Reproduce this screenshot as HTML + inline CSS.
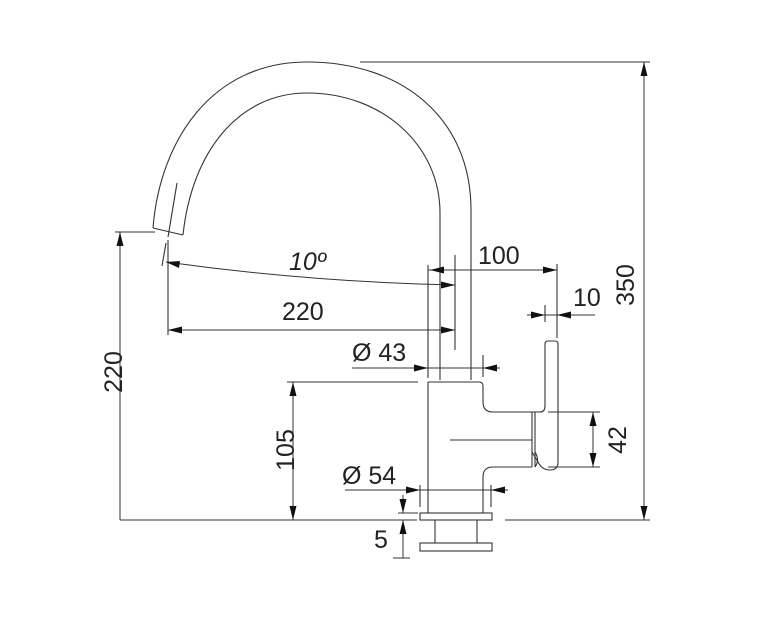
<!DOCTYPE html>
<html><head><meta charset="utf-8"><style>
html,body{margin:0;padding:0;background:#fff;}
svg{display:block;}
text{font-family:"Liberation Sans",Arial,sans-serif;font-size:25px;fill:#222;}
</style></head><body>
<svg width="760" height="620" viewBox="0 0 760 620" xmlns="http://www.w3.org/2000/svg">
<g fill="none" stroke="#333" stroke-width="1.1">
<path d="M471,380 L471,210 C471,118 402,62 307,62 C212,62 160,140 153,228"/>
<path d="M440,380 L440,213 C440,145 382,93 307,93 C240,93 192,150 183,235"/>
<path d="M153,228 L183,235"/>
<path d="M177,183 L168,237"/>
<path d="M166,243 L162,266"/>
<path d="M428,382 L479,382 Q483,382 483,386 L483,402 Q483,412 493,412 L540,412 Q545,412 545,406 L545,344 Q545,341 548,341 L555,341 Q558,341 558,344 L558,462 Q558,470 550,470 Q542,470 538,462 L532,452"/>
<path d="M532,412 L532,467"/>
<path d="M535,412 L535,467"/>
<path d="M428,382 L428,513"/>
<path d="M483,513 L483,477 Q483,467 493,467 L532,467"/>
<path d="M535,452 Q540,460 535,467"/>
<path d="M450,440 L532,440"/>
<rect x="420" y="513" width="72" height="7"/>
<path d="M435,520 L435,543 M477,520 L477,543"/>
<rect x="420" y="543" width="72" height="8"/>
<path d="M120,520 L417,520 M505,520 L650,520"/>
<path d="M360,62 L650,62"/>
<path d="M115,232 L155,232"/>
<path d="M168,240 L168,335"/>
<path d="M428,265 L428,378"/>
<path d="M455,255 L455,350"/>
<path d="M557,264 L557,338"/>
<path d="M545,305 L545,322"/>
<path d="M287,382 L418,382"/>
<path d="M483,355 L483,377"/>
<path d="M420,485 L420,507 M491,485 L491,507"/>
<path d="M398,513 L418,513"/>
<path d="M548,412 L600,412 M548,467 L600,467"/>
<path d="M393,558 L410,558"/>
</g>
<g fill="none" stroke="#333" stroke-width="1">
<path d="M120,520 L120,232"/>
<path d="M293,382 L293,520"/>
<path d="M644,62 L644,520"/>
<path d="M593,412 L593,467"/>
<path d="M168,330 L455,330"/>
<path d="M166,262 Q310,282 455,285"/>
<path d="M428,270 L557,270"/>
<path d="M527,315 L595,315"/>
<path d="M352,368 L500,368"/>
<path d="M345,490 L508,490"/>
<path d="M403,495 L403,513"/>
<path d="M403,558 L403,520"/>
</g>
<g fill="#111">
<polygon points="120,232 116.5,246 123.5,246"/>
<polygon points="293,382 289.5,396 296.5,396"/>
<polygon points="293,520 289.5,506 296.5,506"/>
<polygon points="644,62 640.5,76 647.5,76"/>
<polygon points="644,520 640.5,506 647.5,506"/>
<polygon points="593,412 589.5,426 596.5,426"/>
<polygon points="593,467 589.5,453 596.5,453"/>
<polygon points="168,330 182,326.5 182,333.5"/>
<polygon points="455,330 441,326.5 441,333.5"/>
<polygon points="166,262 180,261 179,268"/>
<polygon points="455,285 441,281.5 441,288.5"/>
<polygon points="430,270 444,266.5 444,273.5"/>
<polygon points="557,270 543,266.5 543,273.5"/>
<polygon points="545,315 531,311.5 531,318.5"/>
<polygon points="557,315 571,311.5 571,318.5"/>
<polygon points="428,368 414,364.5 414,371.5"/>
<polygon points="483,368 497,364.5 497,371.5"/>
<polygon points="420,490 406,486.5 406,493.5"/>
<polygon points="491,490 505,486.5 505,493.5"/>
<polygon points="403,513 399.5,499 406.5,499"/>
<polygon points="403,520 399.5,534 406.5,534"/>
</g>
<text x="289" y="270" font-style="italic">10º</text>
<text x="282" y="320">220</text>
<text x="478" y="264">100</text>
<text x="573" y="306">10</text>
<text x="352" y="361">Ø 43</text>
<text x="342" y="484">Ø 54</text>
<text x="374" y="548">5</text>
<text transform="translate(122,372) rotate(-90)" text-anchor="middle">220</text>
<text transform="translate(294,450) rotate(-90)" text-anchor="middle">105</text>
<text transform="translate(634,285) rotate(-90)" text-anchor="middle">350</text>
<text transform="translate(626,440) rotate(-90)" text-anchor="middle">42</text>
</svg>
</body></html>
